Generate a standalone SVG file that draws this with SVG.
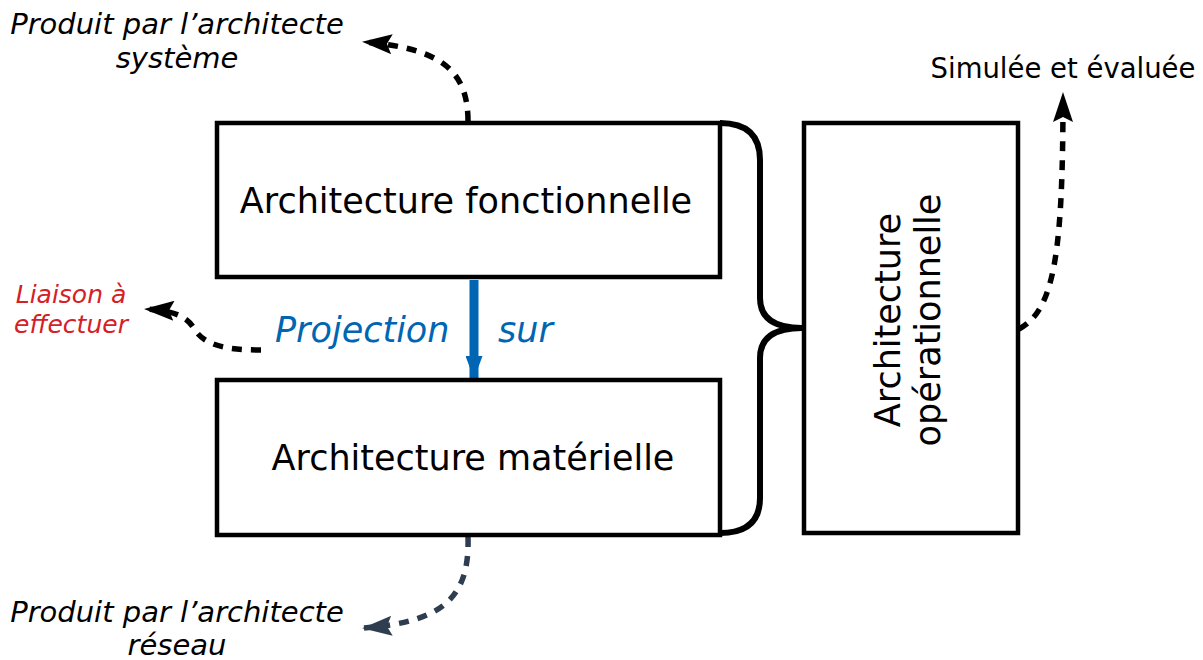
<svg xmlns="http://www.w3.org/2000/svg" width="1203" height="660" viewBox="0 0 1203 660">
<defs>
<style>
.box{fill:#fff;stroke:#000;stroke-width:4.5}
.lbl{font-family:"DejaVu Sans",sans-serif;font-size:35px;fill:#000}
.note{font-family:"DejaVu Sans",sans-serif;font-size:29px;font-style:italic;fill:#000}
.dash{fill:none;stroke:#000;stroke-width:5.5;stroke-dasharray:10 9}
</style>
<marker id="ah" viewBox="0 0 30 20" refX="28" refY="10" markerWidth="30" markerHeight="20" markerUnits="userSpaceOnUse" orient="auto"><path d="M0,0 L30,10 L0,20 L5,10 z" fill="#000"/></marker>
<marker id="ahs" viewBox="0 0 30 20" refX="28" refY="10" markerWidth="30" markerHeight="20" markerUnits="userSpaceOnUse" orient="auto"><path d="M0,0 L30,10 L0,20 L5,10 z" fill="#2e3d4f"/></marker>
<marker id="ahb" viewBox="0 0 23 17" refX="22" refY="8.5" markerWidth="23" markerHeight="17" markerUnits="userSpaceOnUse" orient="auto"><path d="M0,0 L23,8.5 L0,17 z" fill="#0066b3"/></marker>
</defs>
<rect width="1203" height="660" fill="#fff"/>
<g id="connectors">
<path d="M720,123 Q760,123 760,160 L760,298 Q760,328 802,328 Q760,328 760,358 L760,498 Q760,533 720,533" fill="none" stroke="#000" stroke-width="6"/>
<path d="M474,280 L474,378" stroke="#0066b3" stroke-width="9" fill="none" marker-end="url(#ahb)"/>
<path class="dash" d="M468,121 C468,70 440,48 364,42" marker-end="url(#ah)"/>
<path class="dash" d="M261,350 C225,350 205,345 195,330 C188,318 178,311 146,309" marker-end="url(#ah)"/>
<path class="dash" d="M468,537 C470,600 440,622 364,628" style="stroke:#2e3d4f" marker-end="url(#ahs)"/>
<path class="dash" d="M1019,329 C1055,310 1063,250 1063,94" marker-end="url(#ah)"/>
</g>
<g id="n1"><rect class="box" x="217" y="123" width="503" height="154"/>
<text class="lbl" x="466" y="213" text-anchor="middle">Architecture fonctionnelle</text></g>
<g id="n2"><rect class="box" x="217" y="380" width="503" height="155"/>
<text class="lbl" x="473" y="470" text-anchor="middle">Architecture matérielle</text></g>
<g id="n3"><rect class="box" x="804" y="123" width="214" height="410"/>
<text class="lbl" transform="translate(907,320) rotate(-90)" text-anchor="middle"><tspan x="0" y="-7">Architecture</tspan><tspan x="0" y="33">opérationnelle</tspan></text></g>
<g id="labels">
<text class="note" x="177" y="34" text-anchor="middle">Produit par l’architecte</text>
<text class="note" x="177" y="68" text-anchor="middle">système</text>
<text class="note" x="177" y="622" text-anchor="middle">Produit par l’architecte</text>
<text class="note" x="177" y="655" text-anchor="middle">réseau</text>
<text x="1063" y="78" text-anchor="middle" style="font-family:'DejaVu Sans',sans-serif;font-size:27.5px;fill:#000">Simulée et évaluée</text>
<text x="71" y="303" text-anchor="middle" style="font-family:'DejaVu Sans',sans-serif;font-size:25px;font-style:italic;fill:#d42027">Liaison à</text>
<text x="71" y="333" text-anchor="middle" style="font-family:'DejaVu Sans',sans-serif;font-size:25px;font-style:italic;fill:#d42027">effectuer</text>
<text x="275" y="342" style="font-family:'DejaVu Sans',sans-serif;font-size:35px;font-style:italic;fill:#0066b3">Projection</text>
<text x="498" y="342" style="font-family:'DejaVu Sans',sans-serif;font-size:35px;font-style:italic;fill:#0066b3">sur</text>
</g>
</svg>
